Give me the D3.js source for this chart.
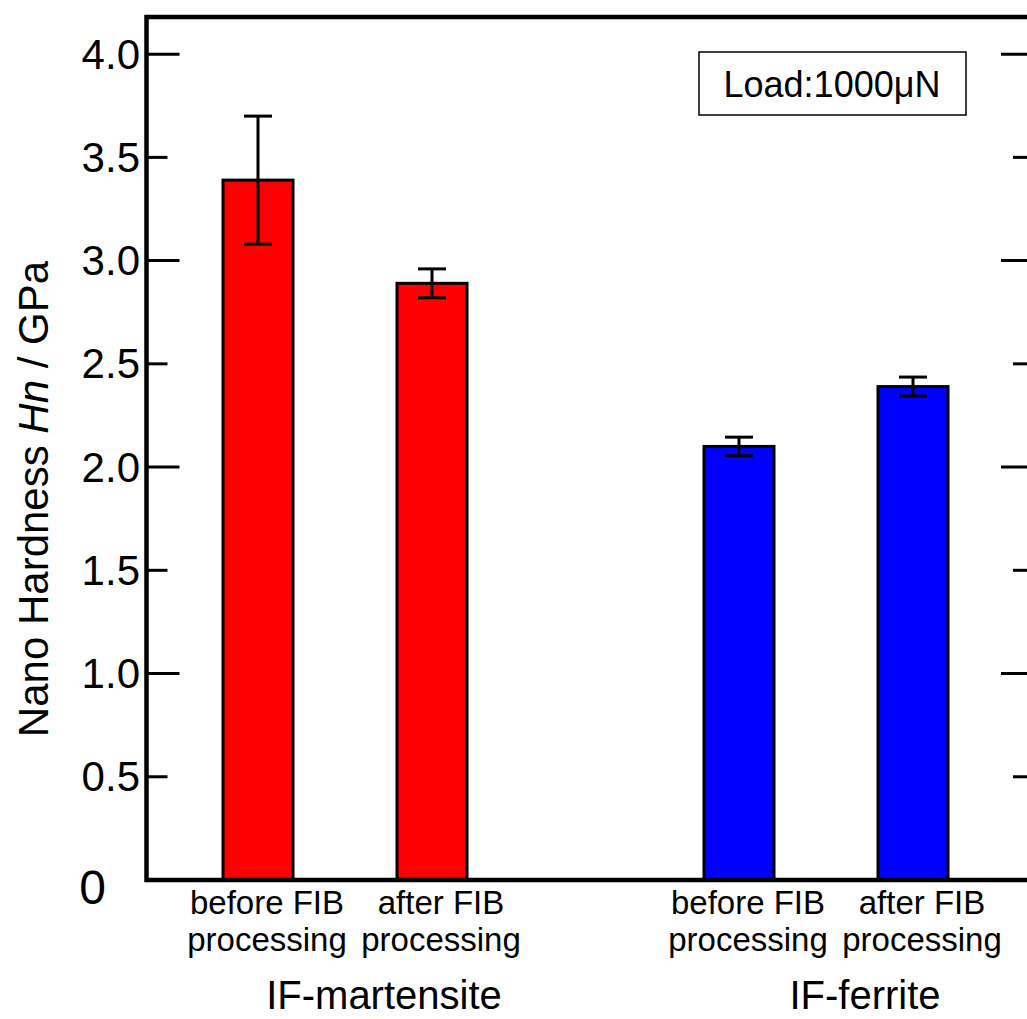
<!DOCTYPE html>
<html>
<head>
<meta charset="utf-8">
<script src="https://cdn.jsdelivr.net/npm/d3@7"></script>
<style>
  body { margin: 0; background: #fff; }
  svg text { font-family: "Liberation Sans", Arial, sans-serif; fill: #000; }
</style>
</head>
<body>
<svg id="chart" width="1027" height="1019"></svg>
<script>
// Nano hardness before / after FIB processing, load 1000 μN
const groups = ["IF-martensite", "IF-ferrite"];
const conditions = [["before FIB", "processing"], ["after FIB", "processing"]];
const martensiteHn = [3.39, 2.89];
const martensiteErr = [0.31, 0.07];
const ferriteHn = [2.10, 2.39];
const ferriteErr = [0.045, 0.046];
const groupColors = ["#ff0000", "#0000ff"];
const yTickValues = [0, 0.5, 1, 1.5, 2, 2.5, 3, 3.5, 4];
const noteText = "Load:1000μN";

const bars = [];
groups.forEach((g, gi) => {
  const vals = gi === 0 ? martensiteHn : ferriteHn;
  const errs = gi === 0 ? martensiteErr : ferriteErr;
  conditions.forEach((c, ci) => {
    bars.push({ group: g, cond: ci, value: vals[ci], err: errs[ci], color: groupColors[gi] });
  });
});

const svg = d3.select("#chart");
const frame = { left: 146.5, right: 1034, top: 17, bottom: 880 };

const y = d3.scaleLinear().domain([0, 4.18]).range([frame.bottom, frame.top]);
const xGroup = d3.scalePoint().domain(groups).range([345, 826]);
const xCond = d3.scalePoint().domain([0, 1]).range([-87, 87]);
const barW = 70;
const cx = d => xGroup(d.group) + xCond(d.cond);

// bars
svg.append("g").selectAll("rect").data(bars).join("rect")
  .attr("x", d => cx(d) - barW / 2)
  .attr("y", d => y(d.value))
  .attr("width", barW)
  .attr("height", d => y(0) - y(d.value))
  .attr("fill", d => d.color)
  .attr("stroke", "#000")
  .attr("stroke-width", 3);

// error bars
const eb = svg.append("g").attr("stroke", "#000").attr("stroke-width", 3).attr("fill", "none");
const capW = 28;
bars.forEach(d => {
  const x0 = cx(d);
  eb.append("line").attr("x1", x0).attr("x2", x0)
    .attr("y1", y(d.value + d.err)).attr("y2", y(d.value - d.err));
  [d.value + d.err, d.value - d.err].forEach(v => {
    eb.append("line").attr("x1", x0 - capW / 2).attr("x2", x0 + capW / 2)
      .attr("y1", y(v)).attr("y2", y(v));
  });
});

// inward ticks on both vertical sides
const tickG = svg.append("g").attr("stroke", "#000").attr("stroke-width", 3);
yTickValues.filter(v => v > 0).forEach(v => {
  const len = Number.isInteger(v) ? 33 : 21;
  tickG.append("line").attr("x1", frame.left).attr("x2", frame.left + len)
    .attr("y1", y(v)).attr("y2", y(v));
  tickG.append("line").attr("x1", frame.right).attr("x2", frame.right - len)
    .attr("y1", y(v)).attr("y2", y(v));
});

// tick labels
svg.append("g").selectAll("text").data(yTickValues).join("text")
  .attr("x", d => d === 0 ? 106 : 140)
  .attr("y", d => d === 0 ? y(d) + 7 : y(d))
  .attr("text-anchor", "end")
  .attr("dominant-baseline", "central")
  .style("font-size", d => d === 0 ? "48px" : "42px")
  .text(d => d === 0 ? "0" : d3.format(".1f")(d));

// frame
svg.append("rect")
  .attr("x", frame.left).attr("y", frame.top)
  .attr("width", frame.right - frame.left).attr("height", frame.bottom - frame.top)
  .attr("fill", "none").attr("stroke", "#000").attr("stroke-width", 4.5);

// y axis title
const yt = svg.append("text")
  .attr("transform", `translate(48,499) rotate(-90)`)
  .attr("text-anchor", "middle")
  .style("font-size", "42px");
yt.append("tspan").text("Nano Hardness ");
yt.append("tspan").style("font-style", "italic").text("Hn");
yt.append("tspan").text(" / GPa");

// condition labels
svg.append("g").selectAll("text").data(bars).join("text")
  .attr("text-anchor", "middle")
  .style("font-size", "33px")
  .each(function (d) {
    const t = d3.select(this);
    conditions[d.cond].forEach((line, i) => {
      t.append("tspan").attr("x", cx(d) + 9).attr("y", 914 + i * 37).text(line);
    });
  });

// group labels
svg.append("g").selectAll("text").data(groups).join("text")
  .attr("x", d => xGroup(d) + 39)
  .attr("y", 1009)
  .attr("text-anchor", "middle")
  .style("font-size", "40px")
  .text(d => d);

// load note
svg.append("rect")
  .attr("x", 699).attr("y", 52).attr("width", 267).attr("height", 63)
  .attr("fill", "#fff").attr("stroke", "#000").attr("stroke-width", 1.5);
svg.append("text")
  .attr("x", 832).attr("y", 84)
  .attr("text-anchor", "middle").attr("dominant-baseline", "central")
  .style("font-size", "36px")
  .text(noteText);
</script>
</body>
</html>
